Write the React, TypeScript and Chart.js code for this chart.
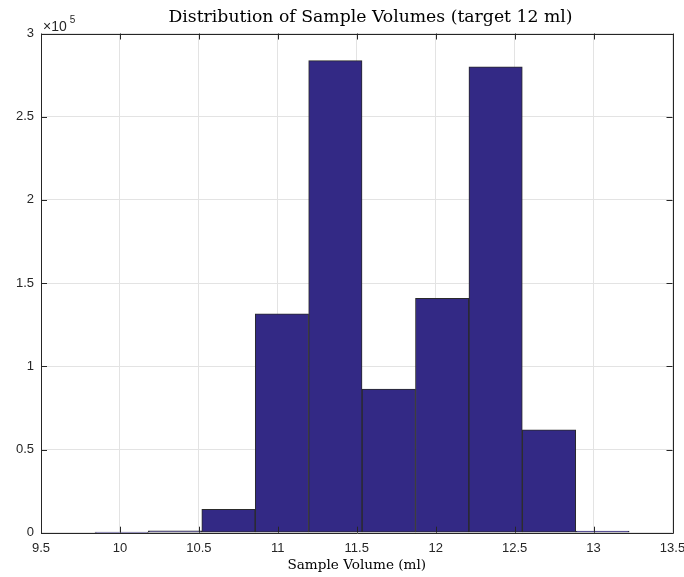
import React, { useEffect, useRef } from "react";
import { Chart, registerables } from "chart.js";

Chart.register(...registerables);

const binEdges = [9.842, 10.18, 10.518, 10.857, 11.195, 11.534, 11.872, 12.21, 12.549, 12.887, 13.226];
const binCounts = [150, 1100, 14100, 131600, 283700, 86300, 140800, 279900, 61800, 900];
const xTicks = [9.5, 10, 10.5, 11, 11.5, 12, 12.5, 13, 13.5];
const yTicks = [0, 50000, 100000, 150000, 200000, 250000, 300000];

const titleText = "Distribution of Sample Volumes (target 12 ml)";
const xLabel = "Sample Volume (ml)";

const AXIS_COLOR = "#262626";

const boxPlugin = {
  id: "matlabBox",
  afterDraw(chart: any) {
    const { ctx, chartArea } = chart;
    const { left, right, top, bottom } = chartArea;
    const xs = chart.scales.x;
    const ys = chart.scales.y;
    ctx.save();
    ctx.strokeStyle = AXIS_COLOR;
    ctx.lineWidth = 1;
    ctx.beginPath();
    ctx.rect(Math.round(left) + 0.5, Math.round(top) + 0.5, Math.round(right - left), Math.round(bottom - top));
    ctx.stroke();
    const tl = 6;
    ctx.beginPath();
    xTicks.forEach((v) => {
      const px = Math.round(xs.getPixelForValue(v)) + 0.5;
      ctx.moveTo(px, bottom);
      ctx.lineTo(px, bottom - tl);
      ctx.moveTo(px, top);
      ctx.lineTo(px, top + tl);
    });
    yTicks.forEach((v) => {
      const py = Math.round(ys.getPixelForValue(v)) + 0.5;
      ctx.moveTo(left, py);
      ctx.lineTo(left + tl, py);
      ctx.moveTo(right, py);
      ctx.lineTo(right - tl, py);
    });
    ctx.stroke();
    // exponent label
    ctx.fillStyle = AXIS_COLOR;
    ctx.textBaseline = "alphabetic";
    ctx.textAlign = "left";
    ctx.font = "14px 'Liberation Sans', Arial, sans-serif";
    ctx.fillText("\u00d710", left + 2, top - 3);
    const w = ctx.measureText("\u00d710").width;
    ctx.font = "10px 'Liberation Sans', Arial, sans-serif";
    ctx.fillText("5", left + 5 + w, top - 11);
    // title
    ctx.fillStyle = "#000";
    ctx.textAlign = "center";
    ctx.font = "17.25px 'DejaVu Serif', 'Liberation Serif', serif";
    ctx.fillText(titleText, 370.5, 22);
    ctx.restore();
  },
};

export default function App() {
  const ref = useRef<HTMLCanvasElement | null>(null);
  useEffect(() => {
    if (!ref.current) return;
    const centers = binCounts.map((_, i) => (binEdges[i] + binEdges[i + 1]) / 2);
    const chart = new Chart(ref.current, {
      type: "bar",
      data: {
        datasets: [
          {
            data: centers.map((c, i) => ({ x: c, y: binCounts[i] })),
            backgroundColor: "rgb(51,41,133)",
            borderColor: "#2a2a2a",
            borderWidth: 1,
            borderSkipped: false,
            barPercentage: 1,
            categoryPercentage: 1,
          } as any,
        ],
      },
      options: {
        animation: false,
        responsive: false,
        maintainAspectRatio: false,
        layout: { padding: { left: 0, right: 0, top: 33.5, bottom: 0 } },
        plugins: {
          legend: { display: false },
          tooltip: { enabled: false },
          title: { display: false },
        },
        scales: {
          x: {
            type: "linear",
            min: 9.5,
            max: 13.5,
            offset: false,
            afterBuildTicks: (s: any) => {
              s.ticks = xTicks.map((v) => ({ value: v }));
            },
            afterFit: (s: any) => {
              s.height = 44.3;
              s.paddingRight = 11.5;
              s.paddingLeft = 0;
            },
            ticks: {
              color: AXIS_COLOR,
              font: { family: "'Liberation Sans', Arial, sans-serif", size: 13 },
              padding: 8,
              maxRotation: 0,
              autoSkip: false,
              callback: (v: any) => String(v),
            },
            grid: { color: "#e3e3e3", drawTicks: false, offset: false },
            border: { display: false },
            title: {
              display: true,
              text: xLabel,
              color: "#000",
              font: { family: "'DejaVu Serif', 'Liberation Serif', serif", size: 13.6 },
              padding: { top: 0, bottom: 3 },
            },
          },
          y: {
            min: 0,
            max: 300000,
            afterBuildTicks: (s: any) => {
              s.ticks = yTicks.map((v) => ({ value: v }));
            },
            afterFit: (s: any) => {
              s.width = 41;
            },
            ticks: {
              color: AXIS_COLOR,
              font: { family: "'Liberation Sans', Arial, sans-serif", size: 13 },
              padding: 7,
              autoSkip: false,
              callback: (v: any) => String(Number(v) / 100000),
            },
            grid: { color: "#e3e3e3", drawTicks: false },
            border: { display: false },
          },
        },
      },
      plugins: [boxPlugin],
    });
    return () => chart.destroy();
  }, []);
  return (
    <div style={{ position: "absolute", left: 0, top: 0, width: 684, height: 577, background: "#fff" }}>
      <canvas ref={ref} width={684} height={577} style={{ width: 684, height: 577 }} />
    </div>
  );
}
